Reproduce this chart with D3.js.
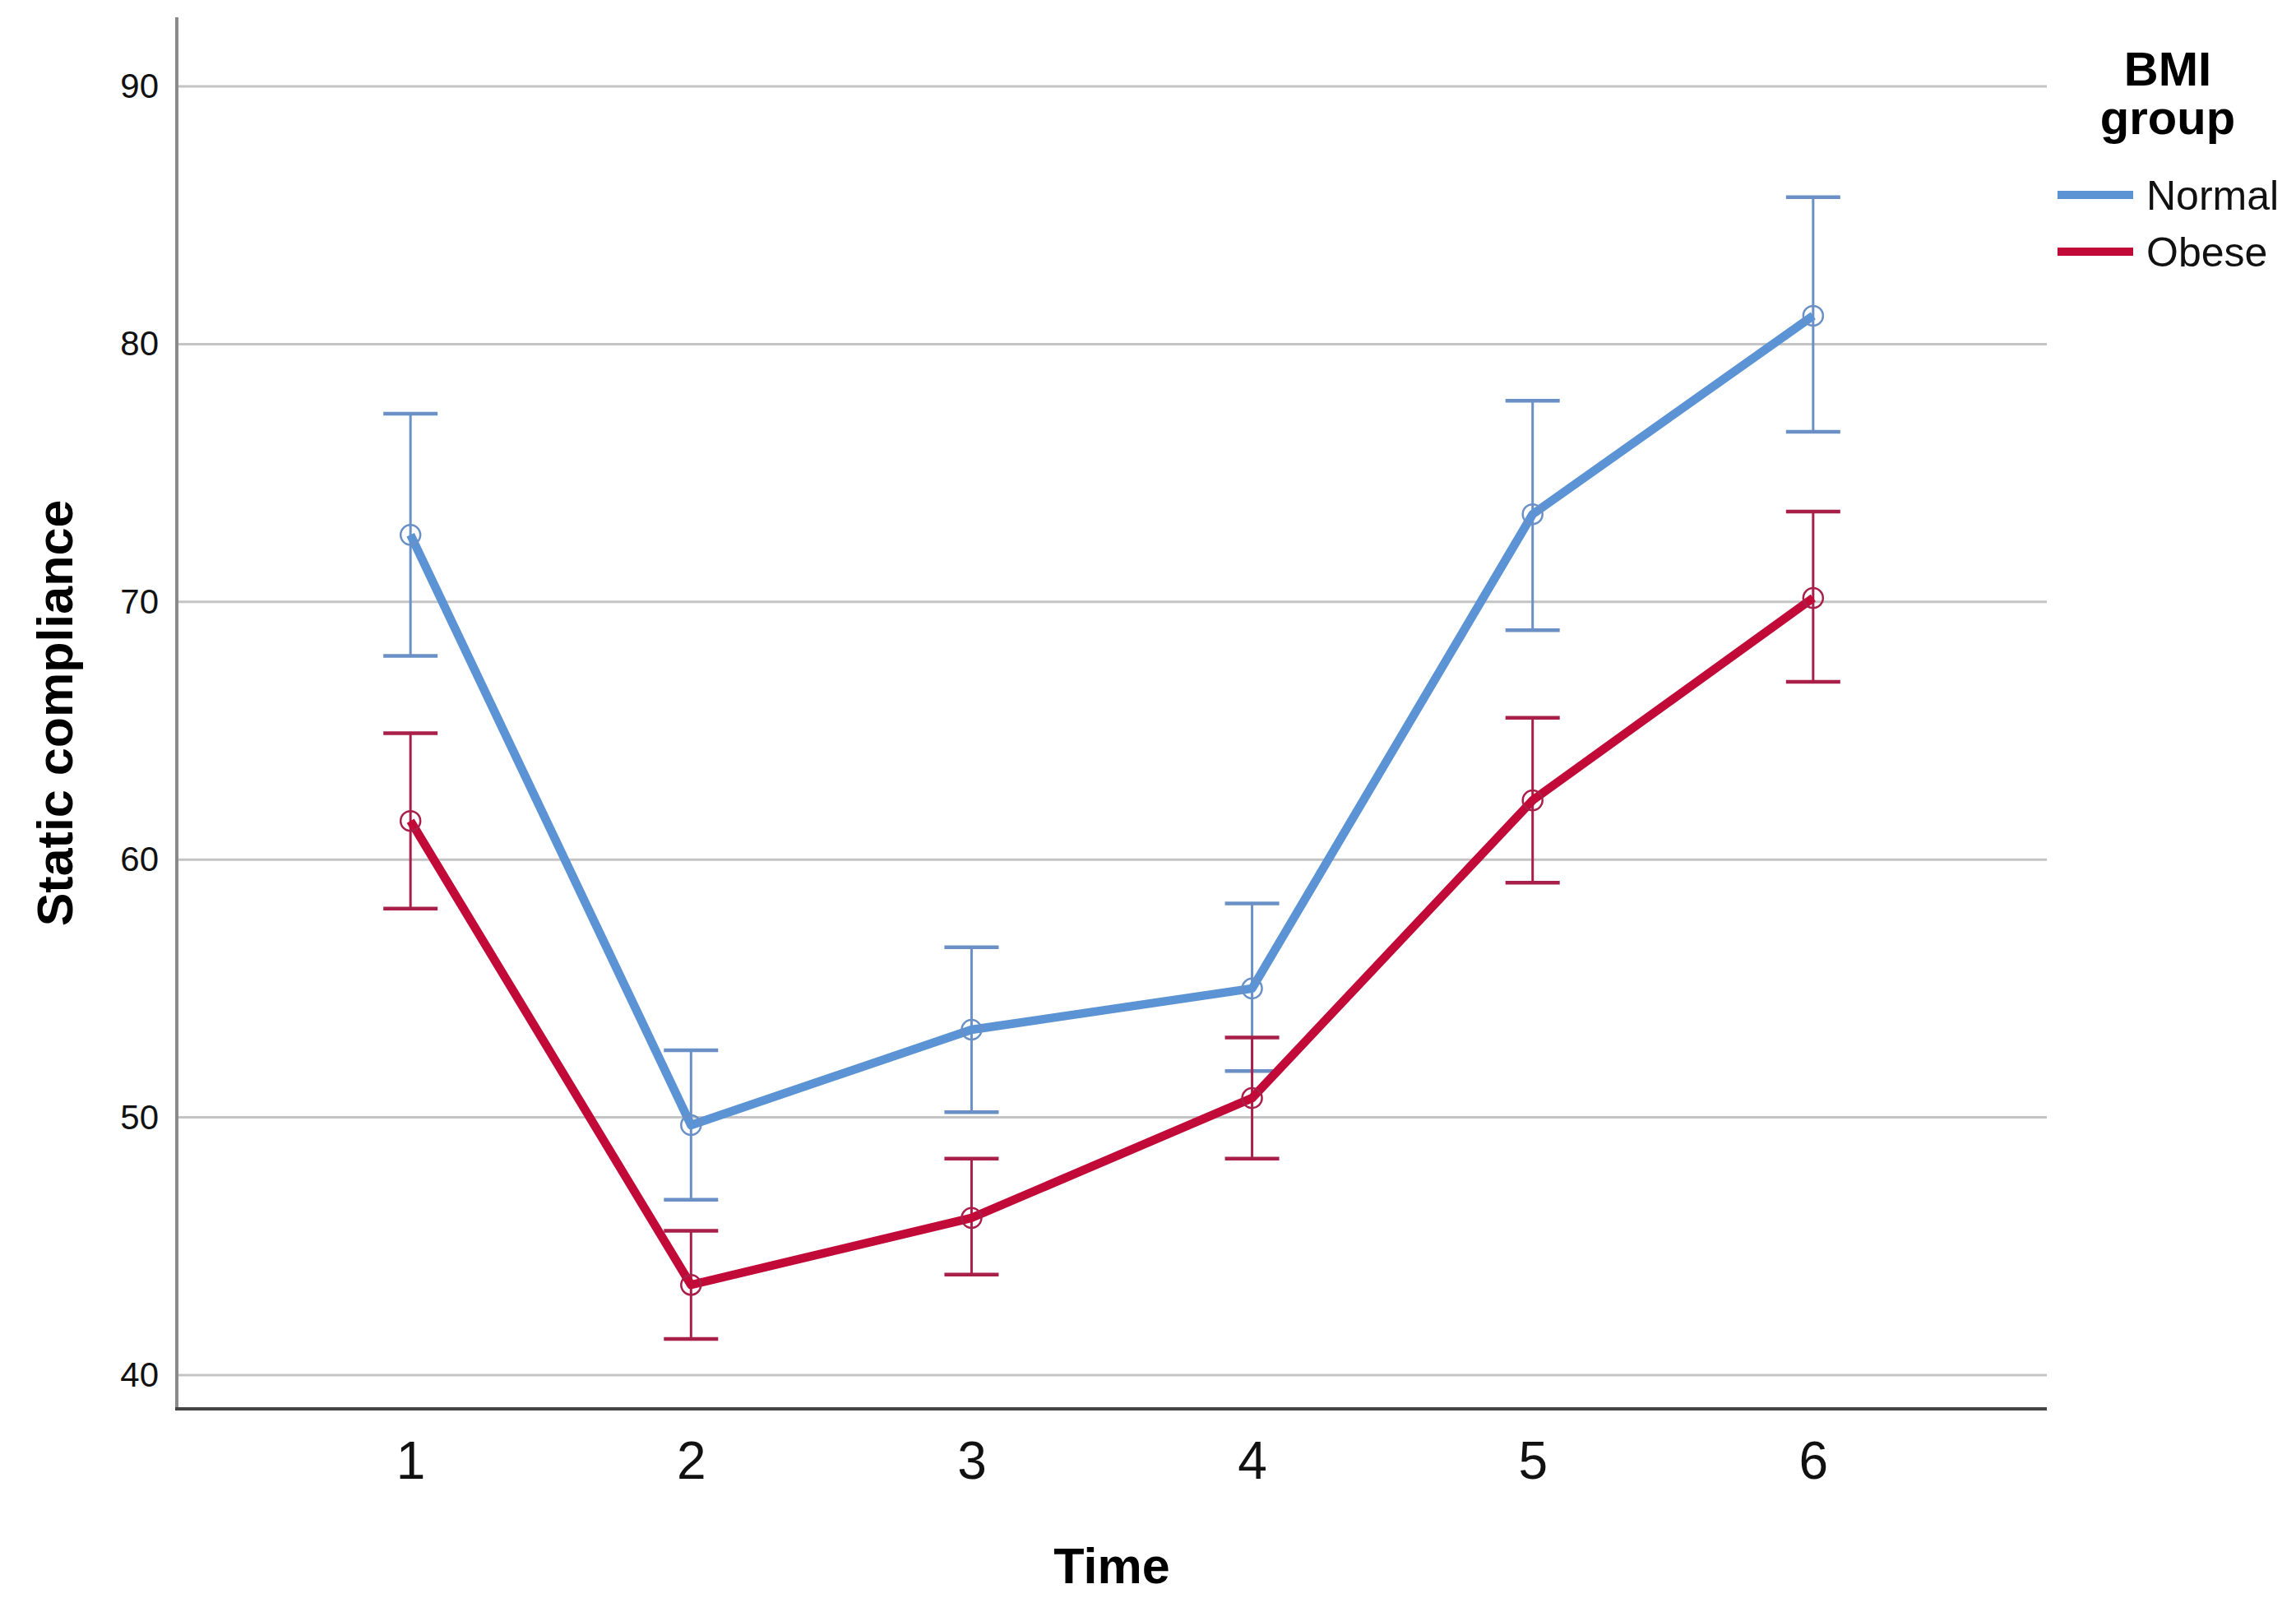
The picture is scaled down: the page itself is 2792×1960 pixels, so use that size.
<!DOCTYPE html>
<html>
<head>
<meta charset="utf-8">
<script src="https://cdn.jsdelivr.net/npm/d3@7"></script>
<style>
  html, body { margin: 0; padding: 0; background: #ffffff; }
  svg { display: block; }
  text { font-family: "Liberation Sans", Arial, sans-serif; }
</style>
</head>
<body>
<svg id="chart" width="2792" height="1960"></svg>
<script>
// ---- data ----
const timePoints = [1, 2, 3, 4, 5, 6];
const yTicks = [40, 50, 60, 70, 80, 90];
const seriesNames = ["Normal", "Obese"];
const normalMean  = [72.6, 49.7, 53.4, 55.0, 73.4, 81.1];
const normalUpper = [77.3, 52.6, 56.6, 58.3, 77.8, 85.7];
const normalLower = [67.9, 46.8, 50.2, 51.8, 68.9, 76.6];
const obeseMean   = [61.5, 43.5, 46.1, 50.75, 62.3, 70.15];
const obeseUpper  = [64.9, 45.6, 48.4, 53.1, 65.5, 73.5];
const obeseLower  = [58.1, 41.4, 43.9, 48.4, 59.1, 66.9];

const series = [
  { name: seriesNames[0], mean: normalMean, upper: normalUpper, lower: normalLower,
    line: "#5b93d4", bar: "#6a90c6", marker: "#6a90c6" },
  { name: seriesNames[1], mean: obeseMean, upper: obeseUpper, lower: obeseLower,
    line: "#c20a38", bar: "#a8204a", marker: "#a8204a" }
];

// ---- layout ----
const svg = d3.select("#chart");
const plot = { left: 215, right: 2489, top: 21, bottom: 1713 };

const x = d3.scalePoint().domain(timePoints).range([plot.left, plot.right]).padding(0.833);
const y = d3.scaleLinear().domain([38.69, 92.68]).range([plot.bottom, plot.top]);

// gridlines
svg.append("g")
  .selectAll("line").data(yTicks).join("line")
  .attr("x1", plot.left).attr("x2", plot.right)
  .attr("y1", d => y(d)).attr("y2", d => y(d))
  .attr("stroke", "#c4c4c4").attr("stroke-width", 3);

// y axis
const yAxis = d3.axisLeft(y).tickValues(yTicks).tickSize(0).tickPadding(22);
const gy = svg.append("g").attr("transform", `translate(${plot.left},0)`).call(yAxis);
gy.select(".domain").remove();
gy.selectAll("text").attr("font-size", 42).attr("fill", "#111");
svg.append("line")
  .attr("x1", plot.left).attr("x2", plot.left)
  .attr("y1", plot.top).attr("y2", plot.bottom)
  .attr("stroke", "#8a8a8a").attr("stroke-width", 4);

// x axis
const xAxis = d3.axisBottom(x).tickSize(0).tickPadding(40);
const gx = svg.append("g").attr("transform", `translate(0,${plot.bottom})`).call(xAxis);
gx.select(".domain").remove();
gx.selectAll("text").attr("font-size", 64).attr("fill", "#111").attr("dy", "0.71em");
svg.append("line")
  .attr("x1", plot.left - 2).attr("x2", plot.right)
  .attr("y1", plot.bottom).attr("y2", plot.bottom)
  .attr("stroke", "#444").attr("stroke-width", 4);

// axis titles
svg.append("text")
  .attr("x", (plot.left + plot.right) / 2).attr("y", 1925)
  .attr("text-anchor", "middle").attr("font-size", 61).attr("font-weight", "bold")
  .attr("fill", "#000").text("Time");

svg.append("text")
  .attr("transform", `translate(88,${(plot.top + plot.bottom) / 2}) rotate(-90)`)
  .attr("text-anchor", "middle").attr("font-size", 61).attr("font-weight", "bold")
  .attr("fill", "#000").text("Static compliance");

// series
const capHalf = 33;
series.forEach(s => {
  const g = svg.append("g");
  const idx = d3.range(timePoints.length);
  // error bars
  g.selectAll("line.v").data(idx).join("line").attr("class", "v")
    .attr("x1", i => x(timePoints[i])).attr("x2", i => x(timePoints[i]))
    .attr("y1", i => y(s.upper[i])).attr("y2", i => y(s.lower[i]))
    .attr("stroke", s.bar).attr("stroke-width", 3);
  g.selectAll("line.cu").data(idx).join("line").attr("class", "cu")
    .attr("x1", i => x(timePoints[i]) - capHalf).attr("x2", i => x(timePoints[i]) + capHalf)
    .attr("y1", i => y(s.upper[i])).attr("y2", i => y(s.upper[i]))
    .attr("stroke", s.bar).attr("stroke-width", 4.5);
  g.selectAll("line.cl").data(idx).join("line").attr("class", "cl")
    .attr("x1", i => x(timePoints[i]) - capHalf).attr("x2", i => x(timePoints[i]) + capHalf)
    .attr("y1", i => y(s.lower[i])).attr("y2", i => y(s.lower[i]))
    .attr("stroke", s.bar).attr("stroke-width", 4.5);
  // line
  const line = d3.line().x((d, i) => x(timePoints[i])).y(d => y(d));
  g.append("path").datum(s.mean).attr("d", line)
    .attr("fill", "none").attr("stroke", s.line).attr("stroke-width", 10.5)
    .attr("stroke-linejoin", "round");
  // markers
  g.selectAll("circle").data(idx).join("circle")
    .attr("cx", i => x(timePoints[i])).attr("cy", i => y(s.mean[i]))
    .attr("r", 12).attr("fill", "none").attr("stroke", s.marker).attr("stroke-width", 2.5);
});

// legend
const lg = svg.append("g");
lg.append("text").attr("x", 2636).attr("y", 104).attr("text-anchor", "middle")
  .attr("font-size", 58).attr("font-weight", "bold").text("BMI");
lg.append("text").attr("x", 2636).attr("y", 163).attr("text-anchor", "middle")
  .attr("font-size", 58).attr("font-weight", "bold").text("group");
const legendY = [237, 306];
series.forEach((s, i) => {
  lg.append("line").attr("x1", 2502).attr("x2", 2594)
    .attr("y1", legendY[i]).attr("y2", legendY[i])
    .attr("stroke", s.line).attr("stroke-width", 10);
  lg.append("text").attr("x", 2610).attr("y", legendY[i]).attr("dy", "0.36em")
    .attr("font-size", 50).attr("fill", "#111").text(s.name);
});
</script>
</body>
</html>
